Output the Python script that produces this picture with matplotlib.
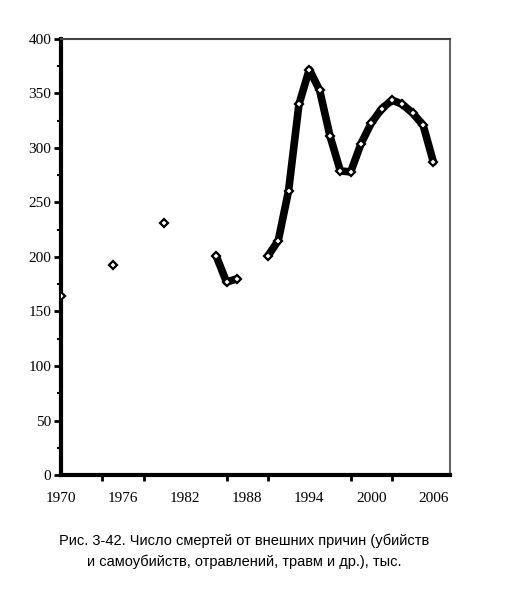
import matplotlib.pyplot as plt
import numpy as np

years = list(range(1970, 2007))
# values in thousands, None = no data for that year
deaths = {1970: 164, 1975: 193, 1980: 231,
          1985: 201, 1986: 177, 1987: 180,
          1990: 201, 1991: 215, 1992: 261, 1993: 340, 1994: 372,
          1995: 353, 1996: 311, 1997: 279, 1998: 278, 1999: 304,
          2000: 323, 2001: 336, 2002: 344, 2003: 340, 2004: 332,
          2005: 321, 2006: 287}
values = [deaths.get(y, np.nan) for y in years]

xlabels = list(range(1970, 2007, 6))
caption = ("Рис. 3-42. Число смертей от внешних причин (убийств\n"
           "и самоубийств, отравлений, травм и др.), тыс.")

fig = plt.figure(figsize=(5.23, 5.96), dpi=100)
ax = fig.add_axes([0.1166, 0.203, 0.7438, 0.7316])

ax.plot(years, values, color='black', lw=5.5, solid_capstyle='round',
        solid_joinstyle='round', zorder=2)
ax.plot(years, values, ls='none', marker='D', ms=4.5, mfc='white',
        mec='black', mew=1.6, zorder=3)

ax.set_xlim(1970, 2007.6)
ax.set_ylim(0, 400)
ax.set_xticks(xlabels)
ax.set_xticklabels([str(v) for v in xlabels])
ax.set_xticks(range(1970, 2007, 4), minor=True)
ax.set_yticks(range(0, 401, 50))
ax.set_yticks(range(0, 401, 25), minor=True)

for lab in ax.get_xticklabels() + ax.get_yticklabels():
    lab.set_family('Liberation Serif')
    lab.set_fontsize(11)

ax.tick_params(axis='x', which='major', length=0, pad=12)
ax.tick_params(axis='x', which='minor', length=4, width=2, direction='out')
ax.tick_params(axis='y', which='major', length=5, width=2, direction='out', pad=2)
ax.tick_params(axis='y', which='minor', length=3, width=1.5, direction='out')

ax.spines['left'].set_linewidth(3)
ax.spines['bottom'].set_linewidth(3)
ax.spines['top'].set_linewidth(1.5)
ax.spines['top'].set_color('#444444')
ax.spines['right'].set_linewidth(1.5)
ax.spines['right'].set_color('#666666')

fig.text(0.467, 0.075, caption, ha='center', va='center',
         family='Liberation Sans', fontsize=10.5, linespacing=1.6)

fig.savefig('out.png', dpi=100)
